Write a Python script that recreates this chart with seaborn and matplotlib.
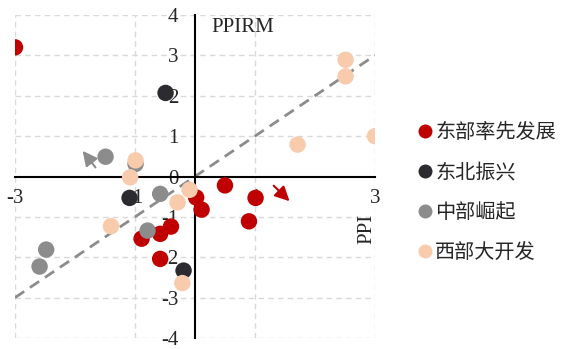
import pandas as pd
import matplotlib.pyplot as plt
import seaborn as sns

# region names and colours
regions = ['东部率先发展', '东北振兴', '中部崛起', '西部大开发']
colors = ['#C00000', '#2B2B30', '#8C8C8C', '#F8CBAD']

# PPI (x) and PPIRM (y) per region
east_x = [-3.0, 0.5, 0.02, 0.11, 1.01, 0.9, -0.89, -0.58, -0.4, -0.58]
east_y = [3.2, -0.22, -0.52, -0.82, -0.53, -1.11, -1.54, -1.42, -1.24, -2.04]
ne_x = [-0.49, -1.09, -0.19]
ne_y = [2.07, -0.53, -2.33]
mid_x = [-1.49, -0.99, -0.58, -0.79, -2.48, -2.59]
mid_y = [0.49, 0.31, -0.43, -1.34, -1.81, -2.23]
west_x = [2.51, 2.51, 1.71, 3.0, -0.99, -1.08, -1.4, -0.29, -0.09, -0.21]
west_y = [2.89, 2.48, 0.79, 1.0, 0.40, -0.02, -1.23, -0.64, -0.33, -2.64]

xs = [east_x, ne_x, mid_x, west_x]
ys = [east_y, ne_y, mid_y, west_y]
rows = []
for name, xv, yv in zip(regions, xs, ys):
    for a, b in zip(xv, yv):
        rows.append({'PPI': a, 'PPIRM': b, 'region': name})
df = pd.DataFrame(rows)

sns.set_style("white")
plt.rcParams['font.family'] = ['Liberation Serif', 'DejaVu Serif']
plt.rcParams['axes.unicode_minus'] = False

fig = plt.figure(figsize=(5.63, 3.49), dpi=100)
ax = fig.add_axes([0.0266, 0.0315, 0.6394, 0.9255])

# grid lines
for gx in [-3, -1, 1, 3]:
    ax.axvline(gx, color='#d9d9d9', ls=(0, (4, 3)), lw=1, zorder=0)
for gy in [-4, -3, -2, -1, 1, 2, 3, 4]:
    ax.axhline(gy, color='#d9d9d9', ls=(0, (4, 3)), lw=1, zorder=0)

# 45 degree reference line
ax.plot([-3, 3], [-3, 3], color='#8c8c8c', ls=(0, (4, 2.5)), lw=2, zorder=1)

sns.scatterplot(data=df, x='PPI', y='PPIRM', hue='region', hue_order=regions,
                palette=colors, s=140, linewidth=0, alpha=1, ax=ax, zorder=3)

# arrows
ax.annotate('', xy=(-1.9, 0.69), xytext=(-1.63, 0.17),
            arrowprops=dict(arrowstyle='-|>', color='#8c8c8c', lw=1.5, mutation_scale=22))
ax.annotate('', xy=(1.61, -0.66), xytext=(1.28, -0.18),
            arrowprops=dict(arrowstyle='-|>', color='#C00000', lw=1.5, mutation_scale=22))

ax.set_xlim(-3, 3)
ax.set_ylim(-4, 4)
ax.set_xticks([-3, -1, 1, 3])
ax.set_yticks([-4, -3, -2, -1, 0, 1, 2, 3, 4])
ax.set_xlabel('')
ax.set_ylabel('')
for side in ['top', 'right']:
    ax.spines[side].set_visible(False)
for side in ['left', 'bottom']:
    ax.spines[side].set_position(('data', 0))
    ax.spines[side].set_color('black')
    ax.spines[side].set_linewidth(1.5)
    ax.spines[side].set_zorder(2)
ax.tick_params(axis='both', direction='out', length=4, width=1.2, labelsize=15)
ax.tick_params(axis='y', pad=8)
ax.tick_params(axis='x', pad=5)

ax.text(0.28, 3.7, 'PPIRM', fontsize=15, va='center', ha='left')
ax.text(2.86, -1.3, 'PPI', fontsize=15, rotation=90, va='center', ha='center')

leg = ax.legend(loc='center left', bbox_to_anchor=(1.117, 0.45), frameon=False,
                prop={'family': ['Noto Sans CJK SC', 'DejaVu Sans'], 'size': 14.5},
                handlelength=0.8, handletextpad=0.1, labelspacing=0.95,
                borderaxespad=0, borderpad=0, markerscale=0.85)

plt.savefig('out.png', dpi=100)
